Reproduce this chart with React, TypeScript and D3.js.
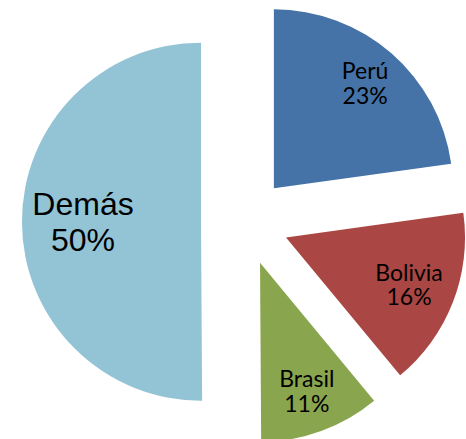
import React from 'react';
import * as d3 from 'd3';

const countries = ['Perú', 'Bolivia', 'Brasil', 'Demás'];
const shares = [22.8, 16.2, 10.9, 50.1];
const colors = ['#4572A7', '#AA4643', '#89A54E', '#93C4D6'];

const W = 466;
const H = 439;
const cx = 245;
const cy = 221.5;
const radius = 179;
const explode = 44;
// distance of each label from its slice's tip, along the bisector
const labelDist = [139, 132, 137, 118];

type Slice = d3.PieArcDatum<number>;

const App: React.FC = () => {
  const pie = d3.pie<number>().sort(null).value(d => d);
  const arcs = pie(shares);
  const arc = d3.arc<Slice>().innerRadius(0).outerRadius(radius);

  return (
    <svg width={W} height={H} style={{ position: 'absolute', left: 0, top: 0 }}>
      {arcs.map((a, i) => {
        const mid = (a.startAngle + a.endAngle) / 2;
        const dx = Math.sin(mid) * explode;
        const dy = -Math.cos(mid) * explode;
        const big = i === 3;
        const lx = Math.sin(mid) * labelDist[i];
        const ly = -Math.cos(mid) * labelDist[i];
        const fs = big ? 32 : 23;
        const lineH = big ? 36.7 : 24.6;
        const capH = big ? 22.3 : 15.8;
        const base = ly + capH / 2 - lineH / 2;
        return (
          <g key={countries[i]} transform={`translate(${cx + dx},${cy + dy})`}>
            <path d={arc(a) || ''} fill={colors[i]} />
            <text
              textAnchor="middle"
              fontFamily={big ? '"Liberation Sans", Arial, sans-serif' : 'Lato, sans-serif'}
              fontSize={fs}
              fill="#000"
            >
              <tspan x={lx} y={base}>{countries[i]}</tspan>
              <tspan x={lx} y={base + lineH}>{`${Math.round(shares[i])}%`}</tspan>
            </text>
          </g>
        );
      })}
    </svg>
  );
};

export default App;
